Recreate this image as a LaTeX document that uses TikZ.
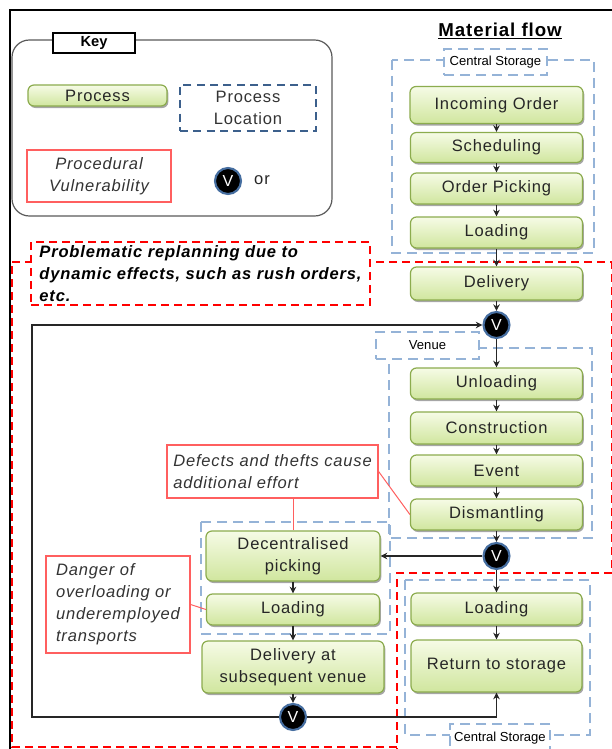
\documentclass[tikz,border=0pt]{standalone}
\usepackage{fontspec}
\setmainfont{Liberation Sans}
\newfontfamily\spfont[LetterSpace=5]{Liberation Sans}
\usetikzlibrary{arrows.meta,shadows,calc}
\definecolor{procTop}{RGB}{246,251,230}
\definecolor{procBot}{RGB}{208,230,158}
\definecolor{procBorder}{RGB}{140,172,78}
\definecolor{lblue}{RGB}{149,179,215}
\definecolor{keyblue}{RGB}{60,96,140}
\definecolor{vblue}{RGB}{70,110,160}
\definecolor{callred}{RGB}{255,95,95}
\definecolor{keygray}{RGB}{90,90,90}
\newcommand\ptxt{\spfont\fontsize{12.4pt}{16.5pt}\selectfont}
\newcommand\stxt{\fontsize{9.8pt}{12pt}\selectfont}
\tikzset{
  procbox/.style 2 args={rounded corners=4.5pt, draw=procBorder, line width=0.9pt,
    top color=procTop, bottom color=procBot,
    drop shadow={shadow xshift=1pt, shadow yshift=-1.5pt, fill=black, opacity=0.35},
    minimum width=#1*0.75pt, minimum height=#2*0.75pt, inner sep=0pt,
    align=center, font=\ptxt, text=black!85},
  vnode/.style={circle, fill=black, draw=vblue, line width=1.6pt, minimum size=26*0.75pt,
    inner sep=0pt, text=white, font=\fontsize{12pt}{14pt}\selectfont},
  regionbox/.style={draw=lblue, line width=1.5pt, dash pattern=on 7.5pt off 4.5pt},
  labelbox/.style={draw=lblue, line width=1.5pt, dash pattern=on 7.5pt off 4.5pt, fill=white,
    inner sep=0pt, font=\stxt, text=black},
  redreg/.style={draw=red, line width=1.5pt, dash pattern=on 6pt off 3.75pt},
  callout/.style={draw=callred, line width=0.9pt, fill=white, inner sep=0pt,
    font=\ptxt\itshape, text=black!80},
  callline/.style={draw=callred, line width=0.75pt},
  arr/.style={-{Stealth[length=5pt,width=5pt]}, line width=0.9pt, draw=black!85}
}
\begin{document}
\begin{tikzpicture}[x=0.75pt,y=-0.75pt]
\fill[white] (0,0) rectangle (611,749);
\useasboundingbox (0,0) rectangle (611,749);

% outer frame
\draw[line width=2pt] (612,10) -- (10,10) -- (10,750);

% red regions
\draw[redreg] (12,262) -- (611.5,262) -- (611.5,573);
\draw[redreg] (612,573) -- (397,573) -- (397,750);
\draw[redreg] (397,747) -- (12,747) -- (12,262);

% process location regions
\draw[regionbox] (392,60) rectangle (594,253);
\draw[regionbox] (389,348) rectangle (592,538);
\draw[regionbox] (201,522) rectangle (390,634);
\draw[regionbox] (405,580) rectangle (590,735);
\node[labelbox, minimum width=103*0.75pt, minimum height=26*0.75pt] (cs1) at (495.5,62) {Central Storage};
\node[labelbox, minimum width=103*0.75pt, minimum height=27*0.75pt] (ven) at (427.5,345.5) {Venue};
\node[labelbox, minimum width=100*0.75pt, minimum height=28*0.75pt] (cs2) at (500,738) {Central Storage};

% key
\node[draw=keygray, fill=white, rounded corners=13pt, line width=0.9pt,
  minimum width=320*0.75pt, minimum height=176*0.75pt] (keybox) at (172,128) {};
\node[draw=black, fill=white, line width=0.9pt, minimum width=82*0.75pt, minimum height=20*0.75pt,
  inner sep=0pt, font=\bfseries\fontsize{11pt}{13pt}\selectfont] (keylab) at (94,43) {Key};
\node[procbox={139}{21}] (kproc) at (97.5,95.5) {Process};
\node[draw=keyblue, line width=1.5pt, dash pattern=on 6pt off 4pt, minimum width=136*0.75pt,
  minimum height=46*0.75pt, inner sep=0pt, align=center, font=\ptxt, text=black!80] (kloc) at (248,108) {Process\\Location};
\node[callout, minimum width=144*0.75pt, minimum height=52*0.75pt, align=center] (kvul) at (99,176) {Procedural\\Vulnerability};
\node[vnode] (kv) at (228,181) {V};
\node[font=\ptxt, text=black!85, inner sep=0pt] (kor) at (262,180) {or};

% title
\node[font=\spfont\bfseries\fontsize{14pt}{16pt}\selectfont, inner sep=0pt] (title) at (500,31) {\underline{Material flow}};

% problematic replanning
\node[redreg, fill=white, minimum width=339*0.75pt, minimum height=63*0.75pt, inner sep=0pt,
  align=left, font=\ptxt\bfseries\itshape] (prob) at (200.5,273.5)
  {Problematic replanning due to\\dynamic effects, such as rush orders,\\etc.};

% process nodes
\node[procbox={173}{37}] (inc) at (496.5,105) {Incoming Order};
\node[procbox={172}{30}] (sch) at (496.5,147.5) {Scheduling};
\node[procbox={172}{31}] (opk) at (496.5,188.5) {Order Picking};
\node[procbox={172}{31}] (ld1) at (496.5,232.5) {Loading};
\node[procbox={172}{33}] (del) at (496.5,283.5) {Delivery};
\node[vnode] (vtop) at (496.5,325) {V};
\node[procbox={172}{31}] (unl) at (496.5,383.5) {Unloading};
\node[procbox={172}{32}] (con) at (496.5,428) {Construction};
\node[procbox={172}{31}] (evt) at (496.5,470.5) {Event};
\node[procbox={172}{31}] (dis) at (496.5,514.5) {Dismantling};
\node[vnode] (vmid) at (496.5,556) {V};
\node[procbox={174}{50}] (dec) at (293,556) {Decentralised\\picking};
\node[procbox={173}{31}] (ld2) at (293,609.5) {Loading};
\node[procbox={182}{52}] (dsv) at (293,667) {Delivery at\\subsequent venue};
\node[vnode] (vbot) at (293,717) {V};
\node[procbox={171}{32}] (ld3) at (496.5,609) {Loading};
\node[procbox={171}{52}] (ret) at (496.5,666) {Return to storage};

% callouts
\node[callout, minimum width=211*0.75pt, minimum height=53*0.75pt, align=left] (def) at (272.5,471.5)
  {Defects and thefts cause\\additional effort};
\node[callout, minimum width=144*0.75pt, minimum height=97*0.75pt, align=left] (dan) at (118,604.5)
  {Danger of\\overloading or\\underemployed\\transports};
\draw[callline] (def.east) -- (dis.west);
\draw[callline] (def.south -| dec.north) -- (dec.north);
\draw[callline] (dan.east) -- (ld2.west);

% flow arrows
\draw[arr] (inc) -- (sch);
\draw[arr] (sch) -- (opk);
\draw[arr] (opk) -- (ld1);
\draw[arr] (ld1) -- (del);
\draw[arr] (del) -- (vtop);
\draw[arr] (vtop) -- (unl);
\draw[arr] (unl) -- (con);
\draw[arr] (con) -- (evt);
\draw[arr] (evt) -- (dis);
\draw[arr] (dis) -- (vmid);
\draw[arr] (vmid) -- (dec);
\draw[arr] (vmid) -- (ld3);
\draw[arr] (ld3) -- (ret);
\draw[arr] (dec) -- (ld2);
\draw[arr] (ld2) -- (dsv);
\draw[arr] (dsv) -- (vbot);
\coordinate (lt) at (32,325);
\coordinate (lb) at (32,717);
\draw[arr] (vbot) -- (lb) -- (lt) -- (vtop);
\draw[arr] (vbot) -| (ret);
\end{tikzpicture}
\end{document}
